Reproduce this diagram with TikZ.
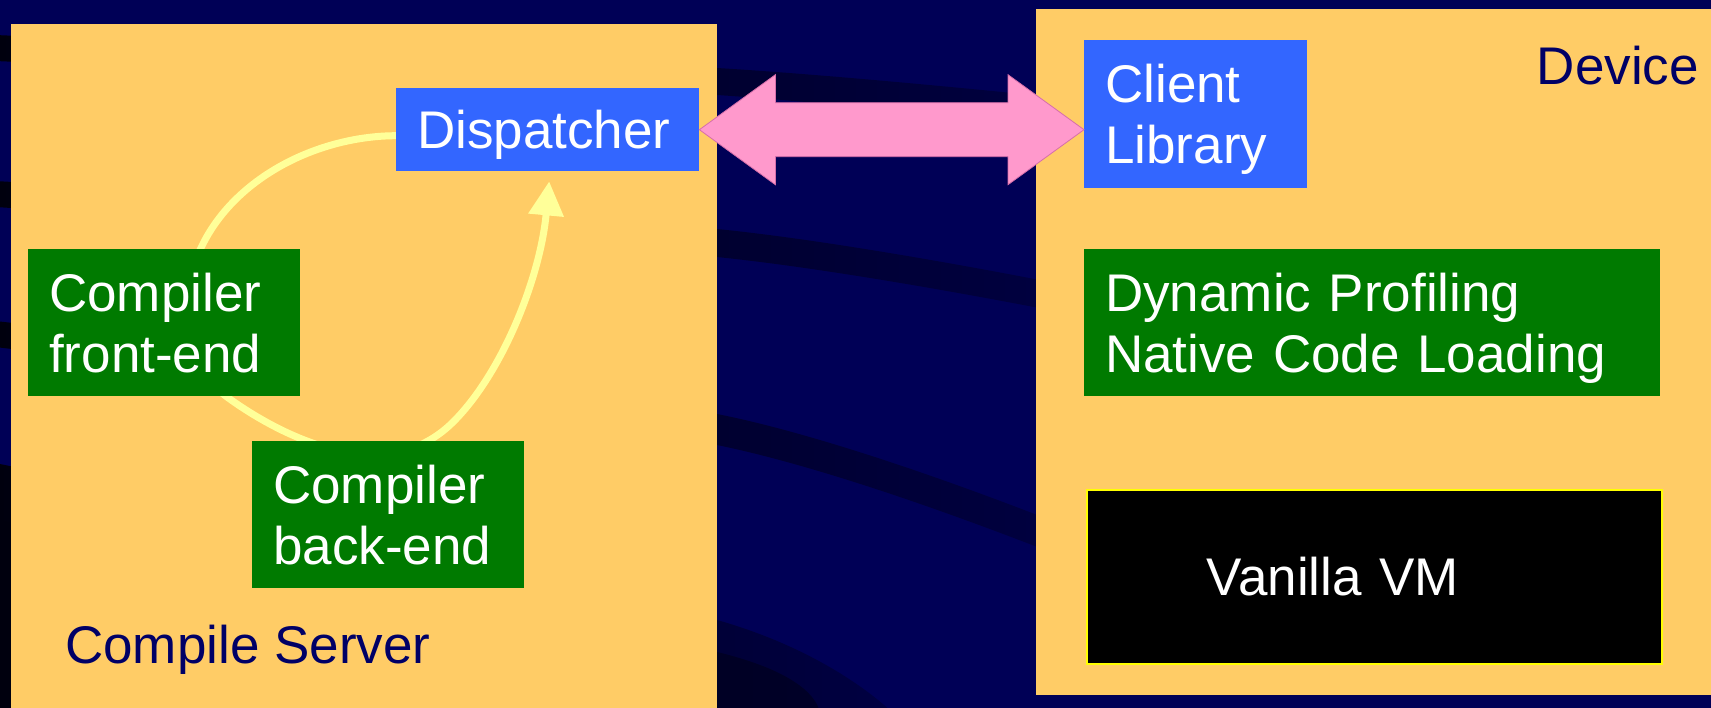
\documentclass[tikz,border=0pt]{standalone}
\usepackage{fontspec}
\setmainfont{Liberation Sans}
\usetikzlibrary{arrows.meta,calc}
\definecolor{bgnavy}{RGB}{0,0,86}
\definecolor{bandleft}{RGB}{0,0,14}
\definecolor{bandright}{RGB}{0,0,66}
\definecolor{panel}{RGB}{255,204,102}
\definecolor{boxblue}{RGB}{51,102,255}
\definecolor{boxgreen}{RGB}{0,122,0}
\definecolor{pinkarrow}{RGB}{255,153,204}
\definecolor{pinkedge}{RGB}{214,110,170}
\definecolor{curveyellow}{RGB}{255,255,153}
\definecolor{labelnavy}{RGB}{0,0,102}
\definecolor{vmedge}{RGB}{255,255,0}
\pgfdeclarelayer{bg}
\pgfdeclarelayer{mid}
\pgfsetlayers{bg,mid,main}
\begin{document}
\begin{tikzpicture}[x=1pt,y=-1pt,
  txt/.style={font=\fontsize{53}{61}\selectfont},
  box/.style={txt, rectangle, anchor=north west, inner xsep=21pt, inner ysep=0pt,
              text=white, align=left},
  bluebox/.style={box, fill=boxblue},
  greenbox/.style={box, fill=boxgreen},
  vmbox/.style={box, fill=black, draw=vmedge, line width=1.5pt},
  panelbox/.style={fill=panel},
  caption/.style={txt, text=labelnavy, inner sep=0pt},
  bandfill/.style={left color=bandleft, right color=bandright},
  flow/.style={draw=curveyellow, line width=7pt, line cap=round,
               -{Triangle[width=34pt,length=34pt]}},
  twoway/.style={fill=pinkarrow, draw=pinkedge, line width=0.8pt}
]
\useasboundingbox (0,0) rectangle (1711,708);

% nodes
\node[bluebox, minimum width=303pt, minimum height=83pt, text width=261pt, text depth=0pt] (disp) at (396,88) {Dispatcher};
\node[bluebox, minimum width=223pt, minimum height=148pt, text width=181pt] (client) at (1084,40) {Client\\\smash{Library}};
\node[greenbox, minimum width=272pt, minimum height=147pt, text width=230pt] (front) at (28,249) {Compiler\\front-end};
\node[greenbox, minimum width=272pt, minimum height=147pt, text width=230pt] (back) at (252,441) {Compiler\\back-end};
\node[greenbox, minimum width=576pt, minimum height=147pt, text width=534pt] (dyn) at (1084,249) {Dynamic Profiling\\\smash{Native Code Loading}};
\node[vmbox, minimum width=575pt, minimum height=174pt, text width=533pt] (vm) at (1086,489) {\hspace*{99pt}Vanilla VM};

\node[caption, anchor=base west] (cs) at (65,663) {Compile Server};
\node[caption, anchor=base east] (dev) at (1699,85) {Device};

% background, swooshes and panels
\begin{pgfonlayer}{bg}
  \fill[bgnavy] (0,0) rectangle (1711,708);
  \begin{scope}
    \clip (0,0) rectangle (1711,708);
    \shade[bandfill] plot[smooth] coordinates {(-5,35) (717,68) (1100,102)}
      -- plot[smooth] coordinates {(1100,134) (717,95) (-5,61)} -- cycle;
    \shade[bandfill] plot[smooth] coordinates {(-5,181) (717,229) (1100,292)}
      -- plot[smooth] coordinates {(1100,320) (717,257) (-5,207)} -- cycle;
    \shade[bandfill] plot[smooth] coordinates {(-5,321) (717,414) (1100,540)}
      -- plot[smooth] coordinates {(1100,572) (717,445) (-5,347)} -- cycle;
    \shade[bandfill] plot[smooth] coordinates {(-5,463) (717,620) (900,720)}
      -- (-5,720) -- cycle;
    \fill[bandleft, opacity=0.45] plot[smooth] coordinates {(-5,520) (717,652) (820,720)}
      -- (-5,720) -- cycle;
  \end{scope}
  \fill[panelbox] (11,24) rectangle (717,720);
  \fill[panelbox] (1036,9) rectangle (1720,695);
\end{pgfonlayer}

% feedback curve behind the boxes
\begin{pgfonlayer}{mid}
  \draw[flow] ($(disp.west)+(0,6)$) .. controls (320,136) and (240,175) .. (205,240)
     .. controls (170,305) and (190,370) .. (227,397)
     .. controls (275,432) and (380,490) .. (450,425)
     .. controls (500,378) and (540,280) .. ($(disp.south)+(1.5,10)$);
\end{pgfonlayer}

% double arrow
\coordinate (AL) at (disp.east);
\coordinate (AR) at (client.west |- disp.east);
\draw[twoway] (AL) -- ++(76,-55) -- ++(0,28) -- ($(AR)+(-76,-27)$) -- ++(0,-28) -- (AR)
  -- ++(-76,55) -- ++(0,-28) -- ($(AL)+(76,27)$) -- ++(0,28) -- cycle;
\end{tikzpicture}
\end{document}
